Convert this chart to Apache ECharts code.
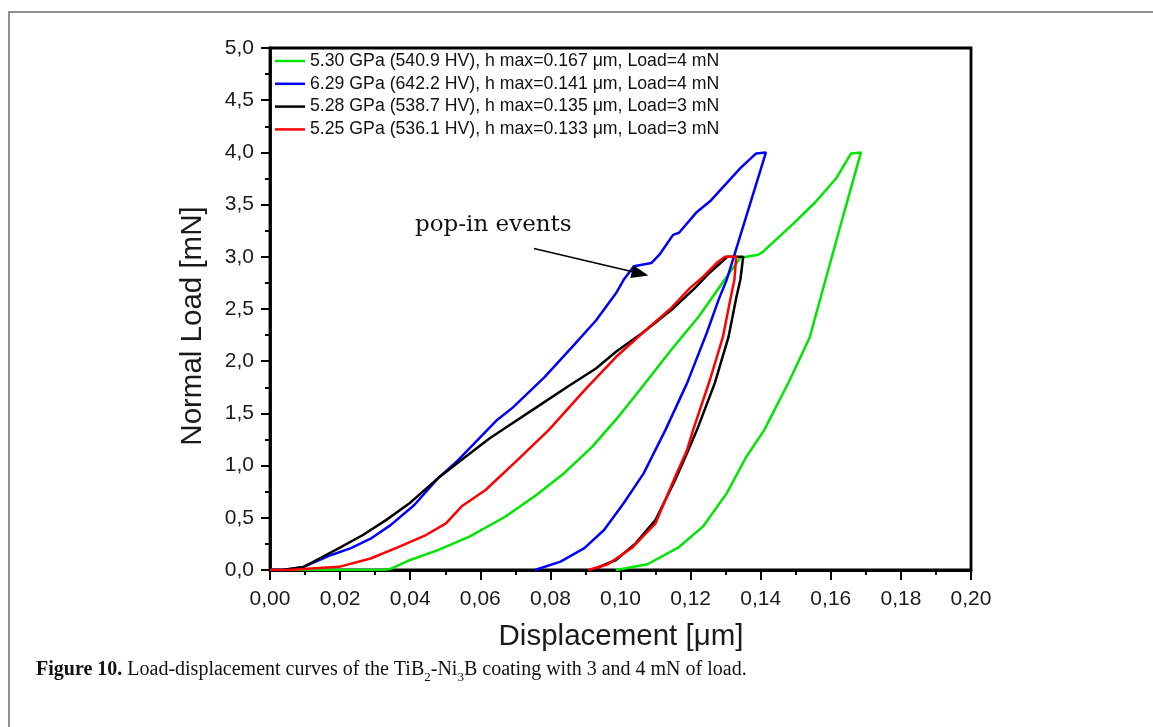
<!DOCTYPE html>
<html>
<head>
<meta charset="utf-8">
<script src="https://cdn.jsdelivr.net/npm/echarts@6/dist/echarts.min.js"></script>
<style>
html,body{margin:0;padding:0;background:#fff;}
#chart{width:1153px;height:727px;}
</style>
</head>
<body>
<div id="chart"></div>
<script>
// ---- Data ----
const seriesNames = [
  '5.30 GPa (540.9 HV), h max=0.167 \u03bcm, Load=4 mN',
  '6.29 GPa (642.2 HV), h max=0.141 \u03bcm, Load=4 mN',
  '5.28 GPa (538.7 HV), h max=0.135 \u03bcm, Load=3 mN',
  '5.25 GPa (536.1 HV), h max=0.133 \u03bcm, Load=3 mN'
];
const seriesColors = ['#00e600', '#0000ff', '#000000', '#ff0000'];

const greenX = [0, 0.032, 0.0344, 0.040, 0.0479, 0.0569, 0.0671, 0.0761, 0.084, 0.0919, 0.0987, 0.1054, 0.1145, 0.1224, 0.1297, 0.1342, 0.1393, 0.1407, 0.1494, 0.1555, 0.1615, 0.1658, 0.1686, 0.1636, 0.1585, 0.154, 0.1483, 0.141, 0.1359, 0.1303, 0.1235, 0.1167, 0.1077, 0.0987];
const greenY = [0, 0, 0.01, 0.096, 0.19, 0.32, 0.51, 0.72, 0.93, 1.18, 1.44, 1.72, 2.11, 2.43, 2.78, 2.99, 3.02, 3.05, 3.32, 3.52, 3.75, 3.99, 4.0, 3.4, 2.78, 2.23, 1.82, 1.34, 1.085, 0.734, 0.415, 0.22, 0.055, 0];

const blueX = [0, 0.004, 0.0096, 0.0175, 0.0231, 0.0287, 0.0344, 0.0411, 0.0479, 0.0536, 0.0592, 0.0648, 0.0694, 0.0784, 0.0863, 0.093, 0.0987, 0.1009, 0.1038, 0.1088, 0.1111, 0.115, 0.1167, 0.1218, 0.1258, 0.1342, 0.1387, 0.1415, 0.1303, 0.128, 0.1246, 0.119, 0.1128, 0.1066, 0.1009, 0.0953, 0.0897, 0.0829, 0.0756];
const blueY = [0, 0, 0.03, 0.144, 0.21, 0.30, 0.43, 0.62, 0.878, 1.05, 1.245, 1.437, 1.56, 1.85, 2.14, 2.39, 2.65, 2.78, 2.91, 2.94, 3.02, 3.21, 3.23, 3.43, 3.54, 3.85, 3.99, 4.0, 2.78, 2.59, 2.27, 1.79, 1.34, 0.926, 0.64, 0.383, 0.21, 0.08, 0];

const blackX = [0, 0.0039, 0.0096, 0.0141, 0.0197, 0.0265, 0.0332, 0.040, 0.0479, 0.0558, 0.0626, 0.0671, 0.0761, 0.0851, 0.093, 0.0987, 0.1066, 0.1145, 0.1212, 0.1255, 0.1305, 0.135, 0.1342, 0.1331, 0.1308, 0.1269, 0.1218, 0.119, 0.1156, 0.11, 0.1043, 0.0987, 0.0919];
const blackY = [0, 0.003, 0.03, 0.11, 0.21, 0.335, 0.48, 0.645, 0.878, 1.085, 1.26, 1.36, 1.56, 1.76, 1.93, 2.09, 2.28, 2.49, 2.70, 2.85, 3.0, 3.0, 2.78, 2.62, 2.23, 1.79, 1.34, 1.12, 0.862, 0.48, 0.255, 0.096, 0];

const redX = [0, 0.005, 0.0197, 0.0287, 0.0366, 0.0445, 0.0502, 0.0547, 0.0615, 0.0705, 0.0795, 0.0897, 0.0987, 0.1066, 0.1145, 0.1198, 0.1236, 0.1274, 0.1298, 0.133, 0.1325, 0.1315, 0.1292, 0.1255, 0.1207, 0.119, 0.1156, 0.11, 0.1032, 0.0964, 0.0908];
const redY = [0, 0, 0.03, 0.11, 0.22, 0.335, 0.447, 0.61, 0.766, 1.05, 1.34, 1.72, 2.04, 2.28, 2.51, 2.70, 2.81, 2.94, 3.0, 3.0, 2.78, 2.62, 2.23, 1.82, 1.34, 1.15, 0.894, 0.447, 0.21, 0.055, 0];

const xTickLabels = ['0,00','0,02','0,04','0,06','0,08','0,10','0,12','0,14','0,16','0,18','0,20'];
const yTickLabels = ['0,0','0,5','1,0','1,5','2,0','2,5','3,0','3,5','4,0','4,5','5,0'];

const arrowTail = [0.0753, 3.08];
const arrowHead = [0.1056, 2.84];

const xTitle = 'Displacement [\u03bcm]';
const yTitle = 'Normal Load [mN]';
const annotationText = 'pop-in events';

// ---- Build ----
function pairs(xs, ys){ return xs.map((x,i)=>[x, ys[i]]); }
const allX = [greenX, blueX, blackX, redX];
const allY = [greenY, blueY, blackY, redY];

const chart = echarts.init(document.getElementById('chart'), null, {renderer:'canvas'});

const series = seriesNames.map((name, i) => ({
  name: name,
  type: 'line',
  data: pairs(allX[i], allY[i]),
  symbol: 'none',
  showSymbol: false,
  smooth: false,
  lineStyle: {color: seriesColors[i], width: 2.5},
  itemStyle: {color: seriesColors[i]},
  z: 3 + i,
  animation: false
}));

series[1].markLine = {
  silent: true,
  symbol: ['none', 'triangle'],
  symbolSize: [13, 17],
  lineStyle: {color: '#000', width: 1.6, type: 'solid'},
  label: {show: false},
  data: [[{coord: arrowTail}, {coord: arrowHead}]],
  animation: false
};

const axisFont = '"Liberation Sans", Arial, sans-serif';

chart.setOption({
  animation: false,
  backgroundColor: '#fff',
  grid: {left: 270, right: 182, top: 48, bottom: 157, show: true, borderColor: '#000', borderWidth: 2.8, backgroundColor: 'transparent'},
  legend: {
    show: true,
    orient: 'vertical',
    left: 275,
    top: 51,
    itemWidth: 30,
    itemHeight: 14,
    itemGap: 2.8,
    padding: 0,
    icon: 'path://M0,0 L30,0 L30,2.5 L0,2.5 Z',
    textStyle: {fontFamily: axisFont, fontSize: 17.7, color: '#111', lineHeight: 20, padding: [0,0,0,0]},
    data: seriesNames.map((n,i)=>({name: n, itemStyle: {color: seriesColors[i]}}))
  },
  xAxis: {
    type: 'value', min: 0, max: 0.2, interval: 0.02,
    axisLine: {show: true, onZero: false, lineStyle: {color: '#000', width: 2.8}},
    axisTick: {show: true, inside: false, length: 10, lineStyle: {color: '#000', width: 2}},
    minorTick: {show: true, splitNumber: 2, length: 5, lineStyle: {color: '#000', width: 2}},
    splitLine: {show: false},
    axisLabel: {margin: 19, fontSize: 21, fontFamily: axisFont, color: '#1a1a1a',
      formatter: v => xTickLabels[Math.round(v / 0.02)]}
  },
  yAxis: {
    type: 'value', min: 0, max: 5, interval: 0.5,
    axisLine: {show: true, onZero: false, lineStyle: {color: '#000', width: 2.8}},
    axisTick: {show: true, inside: false, length: 9, lineStyle: {color: '#000', width: 2}},
    minorTick: {show: true, splitNumber: 2, length: 5, lineStyle: {color: '#000', width: 2}},
    splitLine: {show: false},
    axisLabel: {margin: 16, fontSize: 21, fontFamily: axisFont, color: '#1a1a1a',
      formatter: v => yTickLabels[Math.round(v / 0.5)]}
  },
  series: series,
  graphic: [
    {type: 'rect', shape: {x: 9, y: 12, width: 1170, height: 740}, style: {fill: 'none', stroke: '#8f8f8f', lineWidth: 2}, silent: true, z: 0},
    {type: 'text', x: 193, y: 326, rotation: Math.PI / 2,
      style: {text: yTitle, font: '29.5px ' + axisFont, fill: '#1a1a1a', textAlign: 'center', textVerticalAlign: 'middle'}},
    {type: 'text', x: 621, y: 637,
      style: {text: xTitle, font: '29.5px ' + axisFont, fill: '#1a1a1a', textAlign: 'center', textVerticalAlign: 'middle'}},
    {type: 'text', x: 415, y: 225,
      style: {text: annotationText, font: '23px "DejaVu Serif", serif', fill: '#111', textAlign: 'left', textVerticalAlign: 'middle'}},
    {type: 'text', x: 36, y: 670,
      style: {
        text: '{b|Figure 10.} Load-displacement curves of the TiB{s|2}-Ni{s|3}B coating with 3 and 4 mN of load.',
        fontFamily: '"Liberation Serif", serif', fontSize: 20, fill: '#111',
        textAlign: 'left', textVerticalAlign: 'middle',
        rich: {
          b: {fontWeight: 'bold', fontSize: 20, fontFamily: '"Liberation Serif", serif'},
          s: {fontSize: 13, fontFamily: '"Liberation Serif", serif', verticalAlign: 'bottom', padding: [0,0,-4,0]}
        }
      }}
  ]
});
</script>
</body>
</html>
